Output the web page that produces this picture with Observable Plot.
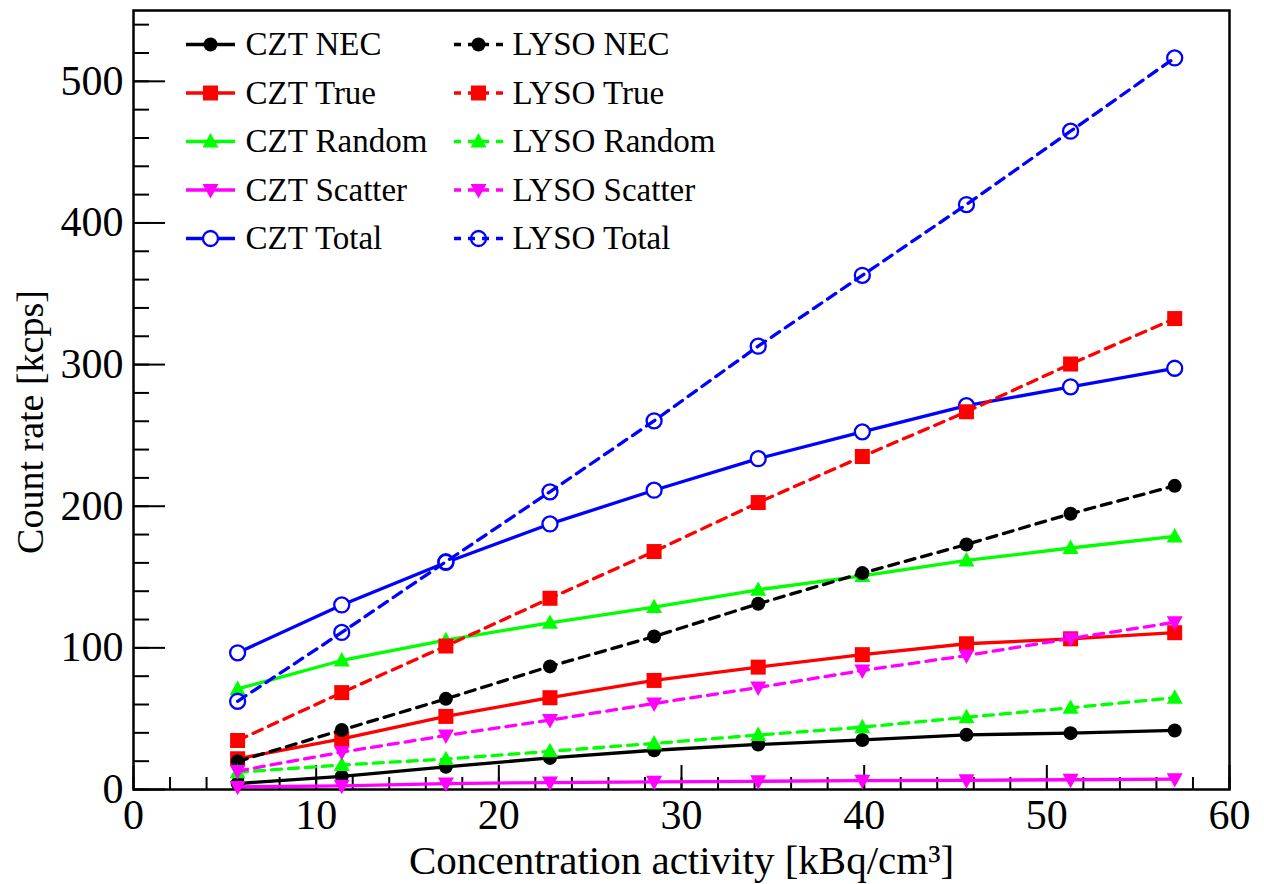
<!DOCTYPE html>
<html>
<head>
<meta charset="utf-8">
<script src="https://cdn.jsdelivr.net/npm/d3@7"></script>
<script src="https://cdn.jsdelivr.net/npm/@observablehq/plot@0.6"></script>
<style>
  html, body { margin: 0; padding: 0; background: #ffffff; }
  #chart { width: 1264px; height: 884px; }
</style>
</head>
<body>
<div id="chart"></div>
<script>
// ---------- data ----------
const activity = [5.7, 11.4, 17.1, 22.8, 28.5, 34.2, 39.9, 45.6, 51.3, 57.0];

const cztNEC      = [4.2, 9.3, 16.0, 22.3, 27.7, 31.8, 35.0, 38.6, 39.8, 41.7];
const cztTrue     = [21.7, 35.8, 51.6, 64.8, 77.0, 86.4, 95.2, 102.9, 106.4, 110.7];
const cztRandom   = [71.0, 91.1, 105.5, 117.7, 128.8, 141.0, 150.8, 161.7, 170.5, 178.7];
const cztScatter  = [1.8, 2.6, 4.2, 4.9, 5.4, 5.8, 6.2, 6.5, 6.9, 7.3];
const cztTotal    = [96.5, 130.3, 160.3, 187.5, 211.3, 233.6, 252.5, 271.0, 284.3, 297.4];

const lysoNEC     = [19.8, 42.0, 64.0, 86.9, 108.0, 131.1, 152.8, 173.0, 194.7, 214.4];
const lysoTrue    = [34.6, 68.4, 101.3, 135.0, 168.0, 202.6, 235.1, 266.7, 300.4, 332.5];
const lysoRandom  = [12.2, 17.3, 21.5, 27.0, 32.5, 38.5, 44.0, 51.0, 57.7, 64.8];
const lysoScatter = [13.0, 26.4, 38.1, 49.0, 60.7, 72.0, 84.0, 94.6, 106.6, 118.0];
const lysoTotal   = [62.3, 110.9, 160.8, 210.2, 260.3, 313.0, 363.0, 413.0, 464.8, 516.5];

const seriesNames = ["CZT NEC", "CZT True", "CZT Random", "CZT Scatter", "CZT Total",
                     "LYSO NEC", "LYSO True", "LYSO Random", "LYSO Scatter", "LYSO Total"];
const seriesValues = [cztNEC, cztTrue, cztRandom, cztScatter, cztTotal,
                      lysoNEC, lysoTrue, lysoRandom, lysoScatter, lysoTotal];
const seriesColors = ["#000000", "#ff0000", "#00ff00", "#ff00ff", "#0000ff",
                      "#000000", "#ff0000", "#00ff00", "#ff00ff", "#0000ff"];
const seriesMarkers = ["circle", "square", "up", "down", "open",
                       "circle", "square", "up", "down", "open"];
const seriesDashed = [false, false, false, false, false, true, true, true, true, true];

const xMajorTicks = [0, 10, 20, 30, 40, 50, 60];
const xMinorTicks = [0, 2, 4, 6, 8, 10, 12, 14, 16, 18, 20, 22, 24, 26, 28, 30, 32, 34, 36, 38, 40,
                     42, 44, 46, 48, 50, 52, 54, 56, 58, 60];
const yMajorTicks = [0, 100, 200, 300, 400, 500];
const yMinorTicks = [0, 20, 40, 60, 80, 100, 120, 140, 160, 180, 200, 220, 240, 260, 280, 300,
                     320, 340, 360, 380, 400, 420, 440, 460, 480, 500, 520, 540];

const xTitle = "Concentration activity [kBq/cm³]";
const yTitle = "Count rate [kcps]";

// ---------- symbols ----------
const rOf = size => Math.sqrt(size / Math.PI);
const symSquare = { draw(c, size) { const r = rOf(size); c.rect(-r, -r, 2 * r, 2 * r); } };
const symUp = { draw(c, size) { const r = rOf(size); c.moveTo(0, -r * 1.05); c.lineTo(r, r * 0.75); c.lineTo(-r, r * 0.75); c.closePath(); } };
const symDown = { draw(c, size) { const r = rOf(size); c.moveTo(0, r * 1.05); c.lineTo(r, -r * 0.75); c.lineTo(-r, -r * 0.75); c.closePath(); } };
const symLegendLine = { draw(c) { c.moveTo(-24.5, 0); c.lineTo(24.5, 0); } };

function markerStyle(kind, color, dashed) {
  switch (kind) {
    case "circle": return { symbol: "circle", r: 7, fill: color, stroke: "none" };
    case "square": return { symbol: symSquare, r: 7.5, fill: color, stroke: "none" };
    case "up":     return { symbol: symUp, r: 8, fill: color, stroke: "none" };
    case "down":   return { symbol: symDown, r: 8, fill: color, stroke: "none" };
    default:       return { symbol: "circle", r: 7.5, fill: dashed ? "none" : "white", stroke: color, strokeWidth: 2.3 };
  }
}

const marks = [];

// axis ticks (inside) and labels
marks.push(Plot.axisX(xMinorTicks, { tickSize: -12, tickFormat: () => "", label: null, strokeWidth: 2 }));
marks.push(Plot.axisX(xMajorTicks, { tickSize: -24, tickFormat: () => "", label: null, strokeWidth: 2 }));
marks.push(Plot.axisX(xMajorTicks, { tickSize: 0, tickPadding: 10, fontSize: 42, label: null }));
marks.push(Plot.axisY(yMinorTicks, { tickSize: -16, tickFormat: () => "", label: null, strokeWidth: 2 }));
marks.push(Plot.axisY(yMajorTicks, { tickSize: -32, tickFormat: () => "", label: null, strokeWidth: 2 }));
marks.push(Plot.axisY(yMajorTicks, { tickSize: 0, tickPadding: 10, fontSize: 42, label: null }));
marks.push(Plot.frame({ stroke: "#000", strokeWidth: 2.5 }));

// series
seriesNames.forEach((name, k) => {
  const data = activity.map((x, i) => ({ x, y: seriesValues[k][i] }));
  const lineOpts = { x: "x", y: "y", stroke: seriesColors[k], strokeWidth: 3.3 };
  if (seriesDashed[k]) lineOpts.strokeDasharray = "10,7";
  marks.push(Plot.line(data, lineOpts));
  marks.push(Plot.dot(data, { x: "x", y: "y", ...markerStyle(seriesMarkers[k], seriesColors[k], seriesDashed[k]) }));
});

// legend (inside the frame, top-left)
const legendLineDx = [77, 345];
const legendTextDx = [112, 379];
const legendRowDy = [34, 82.5, 131, 179.5, 228];
seriesNames.forEach((name, k) => {
  const col = k < 5 ? 0 : 1;
  const row = k % 5;
  const pos = { frameAnchor: "top-left", dx: legendLineDx[col], dy: legendRowDy[row] };
  const lo = { ...pos, symbol: symLegendLine, r: 1, fill: "none", stroke: seriesColors[k], strokeWidth: 3.3 };
  if (seriesDashed[k]) lo.strokeDasharray = "7,7";
  marks.push(Plot.dot([name], lo));
  marks.push(Plot.dot([name], { ...pos, ...markerStyle(seriesMarkers[k], seriesColors[k], seriesDashed[k]) }));
  marks.push(Plot.text([name], { frameAnchor: "top-left", dx: legendTextDx[col], dy: legendRowDy[row],
    text: d => d, textAnchor: "start", lineAnchor: "middle", fontSize: 33, fill: "#000" }));
});

// axis titles
marks.push(Plot.text([xTitle], { frameAnchor: "bottom", dy: 71, text: d => d, textAnchor: "middle",
  lineAnchor: "middle", fontSize: 41, fill: "#000" }));
marks.push(Plot.text([yTitle], { frameAnchor: "left", dx: -103, dy: 22, rotate: -90, text: d => d,
  textAnchor: "middle", lineAnchor: "middle", fontSize: 38, fill: "#000" }));

const chart = Plot.plot({
  width: 1264,
  height: 884,
  marginLeft: 133,
  marginRight: 35,
  marginTop: 10,
  marginBottom: 95,
  x: { domain: [0, 60] },
  y: { domain: [0, 550] },
  style: { fontFamily: "'Liberation Serif', 'Times New Roman', serif", fontSize: "40px", background: "#ffffff", color: "#000" },
  marks
});
document.getElementById("chart").appendChild(chart);
</script>
</body>
</html>
